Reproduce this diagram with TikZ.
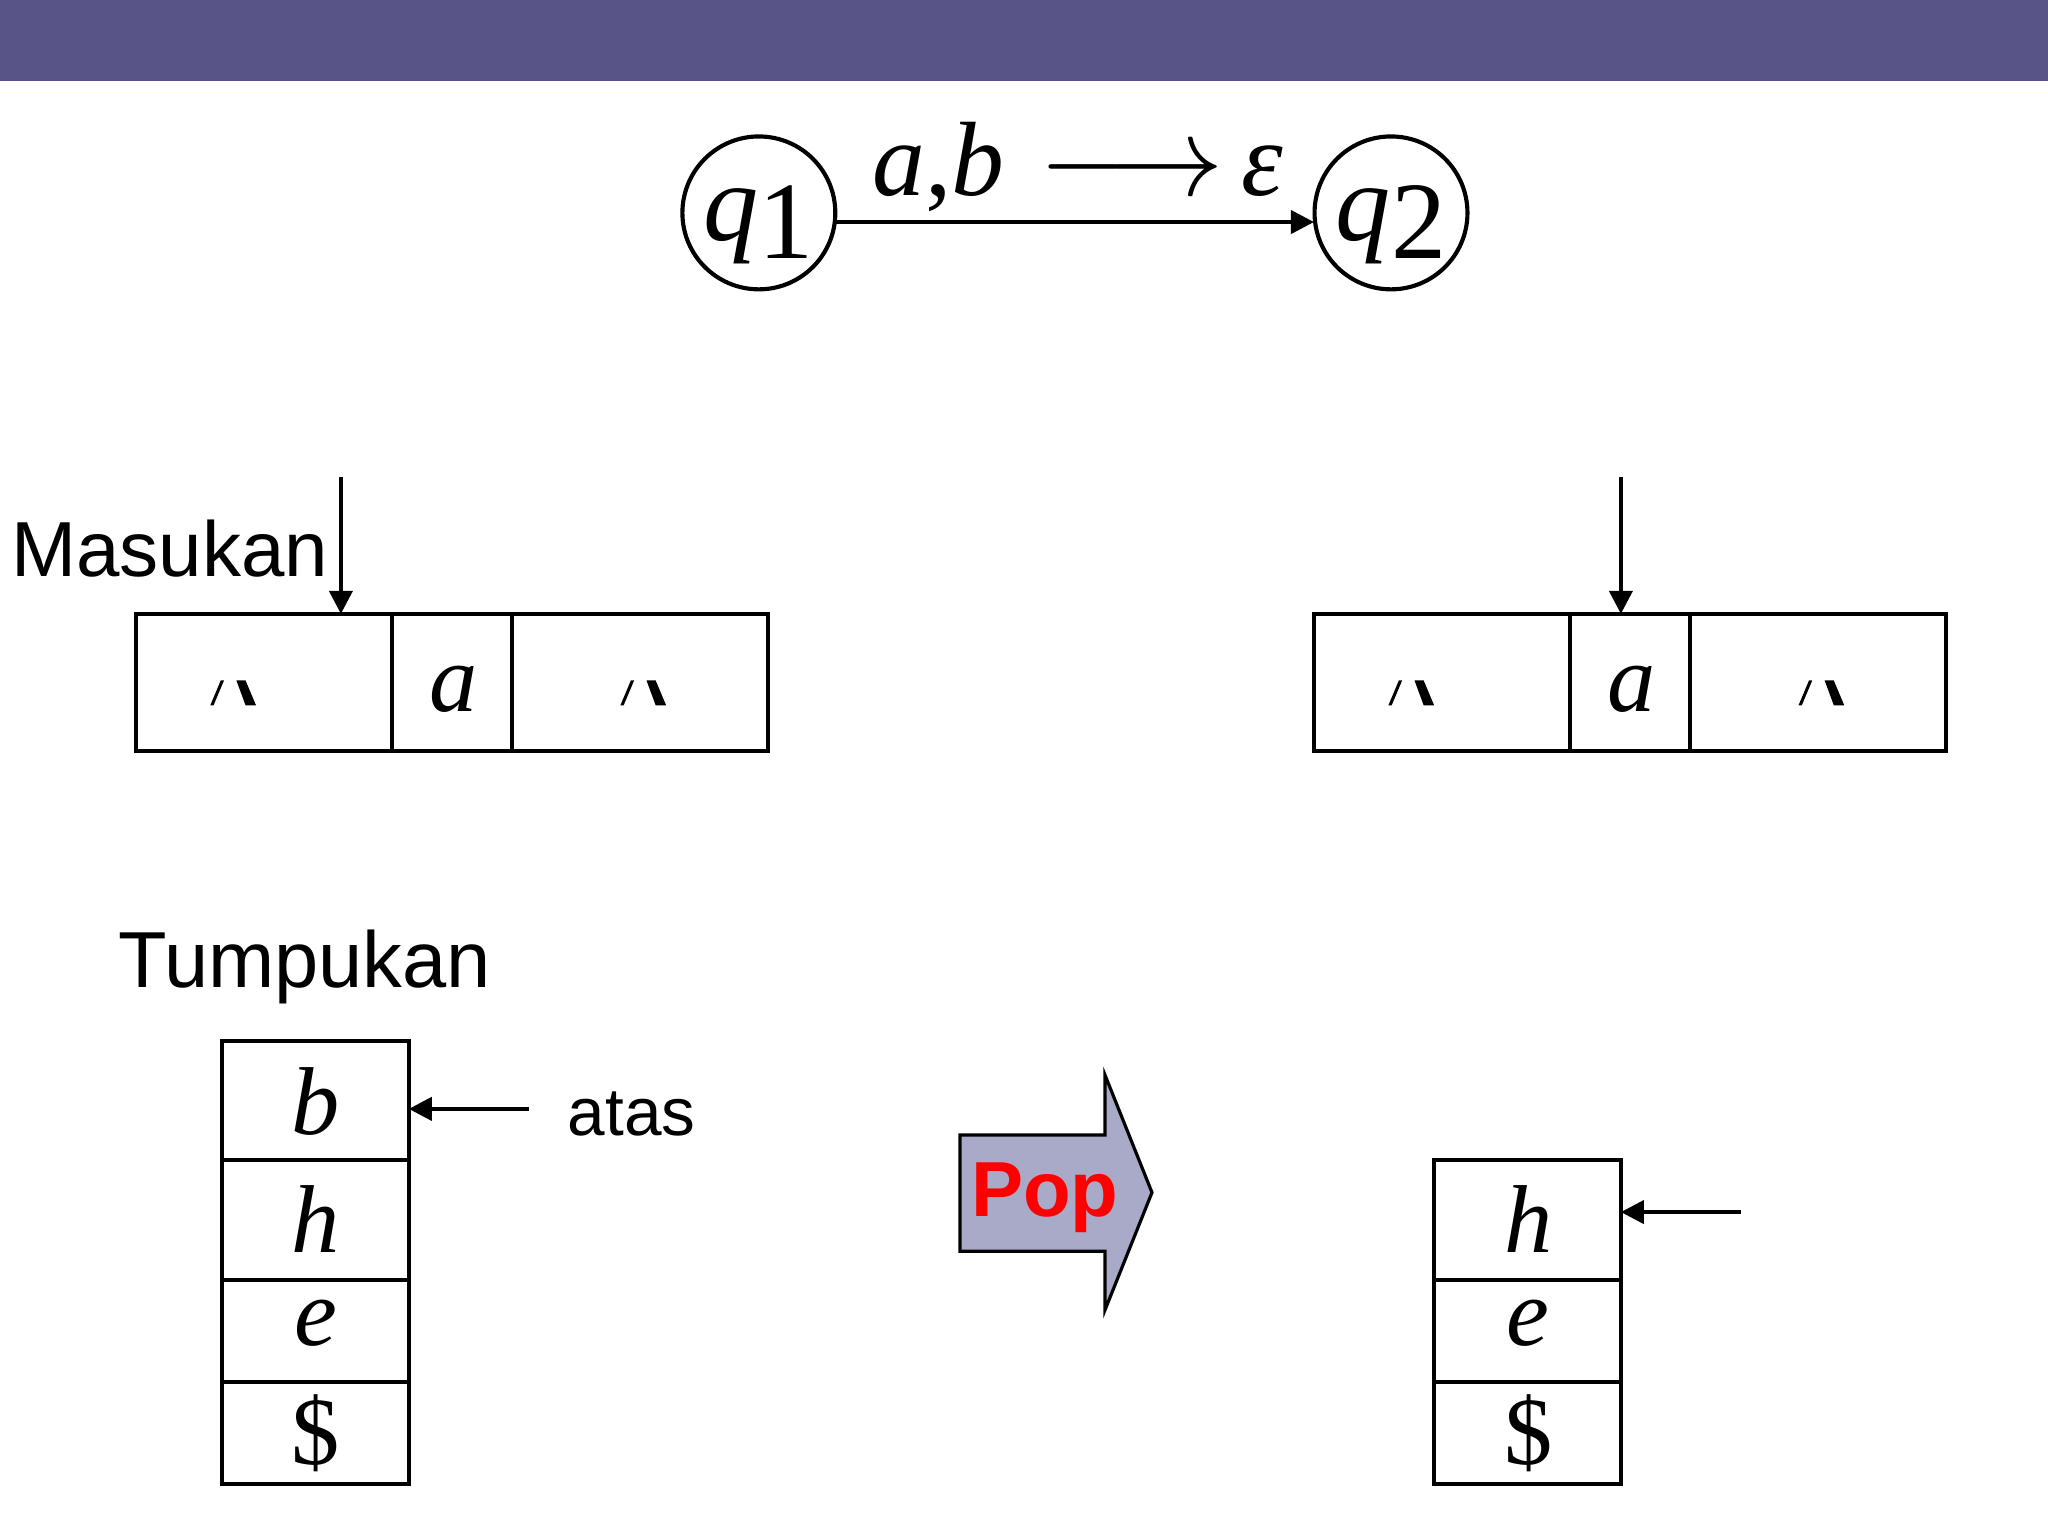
\documentclass[tikz,border=0pt]{standalone}
\usepackage{fontspec}
\setmainfont{Liberation Serif}
\newfontfamily\lsans{Liberation Sans}
\usetikzlibrary{arrows.meta}
\definecolor{hdr}{HTML}{585488}
\definecolor{popfill}{HTML}{A9AAC7}
\tikzset{
  px/.style={x=0.01cm,y=-0.01cm},
  ln/.style={draw=black,line width=0.9pt},
  arr/.style={ln,-{Triangle[length=5pt,width=5pt]}},
  bigit/.style={font=\fontsize{21}{21}\selectfont\itshape},
  pics/blankc/.style={code={
    \fill (-18,10)--(-15.5,10)--(-7.5,-9)--(-10,-9)--cycle;
    \fill (2,-9)--(9,-9)--(17,10)--(9,10)--cycle;}}
}
\begin{document}
\begin{tikzpicture}[px]
\useasboundingbox (0,0) rectangle (1568,1176);
\fill[white] (0,0) rectangle (1568,1176);
\fill[hdr] (0,0) rectangle (1568,62);
% states
\node[ln,circle,minimum size=1.17cm,inner sep=0] (q1) at (581,163) {};
\node[ln,circle,minimum size=1.17cm,inner sep=0] (q2) at (1065,163) {};
\node[font=\fontsize{24}{24}\selectfont] (q1t) at (581,172) {\textit{q}\raisebox{-0.35ex}{1}};
\node[font=\fontsize{24}{24}\selectfont] (q2t) at (1065,172) {\textit{q}\raisebox{-0.35ex}{2}};
\coordinate (s1) at (640,170);
\coordinate (s2) at (1006,170);
\draw[arr] (s1) -- (s2);
\node[font=\fontsize{23}{23}\selectfont] (lab) at (825,128) {\textit{a},\textit{b}\,\,$\longrightarrow$\,\textit{ε}};
% input tapes
\node[font=\lsans\fontsize{17}{17}\selectfont,anchor=east,inner sep=0] (mas) at (252,420) {Masukan};
\draw[ln] (104,470) rectangle (588,575);
\draw[ln] (300,470) -- (300,575) (392,470) -- (392,575);
\draw[ln] (1006,470) rectangle (1490,575);
\draw[ln] (1202,470) -- (1202,575) (1294,470) -- (1294,575);
\node[bigit] (ia) at (347,528) {a};
\node[bigit] (ib) at (1249,528) {a};
\pic at (179,530) {blankc};
\pic at (493,530) {blankc};
\pic at (1081,530) {blankc};
\pic at (1395,530) {blankc};
\coordinate (h1a) at (261,365); \coordinate (h1b) at (261,470);
\coordinate (h2a) at (1241,365); \coordinate (h2b) at (1241,470);
\draw[arr] (h1a) -- (h1b);
\draw[arr] (h2a) -- (h2b);
% stacks
\node[font=\lsans\fontsize{17.3}{17}\selectfont,anchor=west,inner sep=0] (tum) at (90,740) {Tumpukan};
\draw[ln] (170,797) rectangle (313,1136);
\draw[ln] (170,888) -- (313,888) (170,980) -- (313,980) (170,1058) -- (313,1058);
\node[bigit] (sb) at (242,843) {b};
\node[bigit] (sh) at (242,933) {h};
\node[bigit] (se) at (242,1013) {e};
\node[font=\fontsize{21}{21}\selectfont] (sd) at (242,1097) {\$};
\coordinate (t1a) at (405,849); \coordinate (t1b) at (313,849);
\draw[arr] (t1a) -- (t1b);
\node[font=\lsans\fontsize{14.7}{15}\selectfont,anchor=west,inner sep=0] (atas) at (434,853) {atas};
\draw[ln] (1098,888) rectangle (1241,1136);
\draw[ln] (1098,980) -- (1241,980) (1098,1058) -- (1241,1058);
\node[bigit] (rh) at (1170,933) {h};
\node[bigit] (re) at (1170,1013) {e};
\node[font=\fontsize{21}{21}\selectfont] (rd) at (1170,1097) {\$};
\coordinate (t2a) at (1333,928); \coordinate (t2b) at (1241,928);
\draw[arr] (t2a) -- (t2b);
% pop arrow
\draw[fill=popfill,draw=black,line width=0.7pt] (735,869)--(846,869)--(846,823)--(882,913)--(846,1003)--(846,958)--(735,958)--cycle;
\node[font=\lsans\bfseries\fontsize{17}{17}\selectfont,text=red] (pop) at (800,917) {Pop};
\end{tikzpicture}
\end{document}
